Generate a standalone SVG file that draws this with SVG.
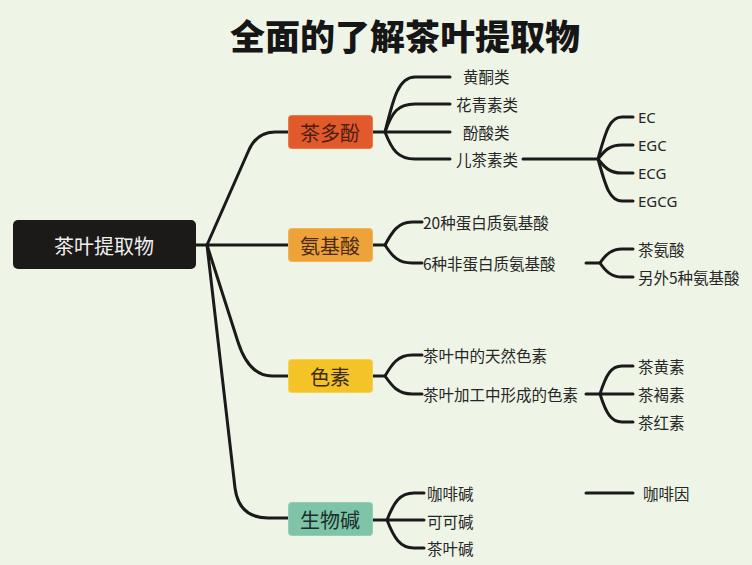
<svg xmlns="http://www.w3.org/2000/svg" width="752" height="565" viewBox="0 0 752 565">
<style>
text{font-family:"Noto Sans CJK SC","Noto Sans",sans-serif;fill:#262626;}
.t{font-size:35px;font-weight:900;fill:#161616;}
.lbl{font-size:15.5px;dominant-baseline:central;}
.en{font-family:"Noto Sans","Liberation Sans",sans-serif;font-size:15px;dominant-baseline:central;}
.box{font-size:20px;text-anchor:middle;dominant-baseline:central;}
.c path{fill:none;stroke:#1a1a1a;stroke-width:3;stroke-linecap:round;stroke-linejoin:round;}
</style>
<rect width="752" height="565" fill="#eef5e6"/>
<text class="t" x="405" y="50" text-anchor="middle">全面的了解茶叶提取物</text>

<g class="c" id="connectors">
<path d="M196,245 H207"/>
<path d="M207,245 L248,152 Q256,132 275,132 H289"/>
<path d="M207,245 H289"/>
<path d="M207,245 L238,342 Q249,376 272,376 H289"/>
<path d="M207,245 L235,488 Q239,518 268,518 H289"/>
<!-- 茶多酚 -->
<path d="M373,132 H385"/>
<path d="M385,132 C393,100 398,77 415,77 H450"/>
<path d="M385,132 C392,112 398,104 415,104 H450"/>
<path d="M385,132 H450"/>
<path d="M385,132 C392,150 398,159 415,159 H450"/>
<path d="M523,159 H598"/>
<path d="M598,159 C606,130 610,117 622,117 H633"/>
<path d="M598,159 C605,150 610,145 622,145 H633"/>
<path d="M598,159 C605,168 610,173 622,173 H633"/>
<path d="M598,159 C606,188 610,201 622,201 H633"/>
<!-- 氨基酸 -->
<path d="M373,245 H385"/>
<path d="M385,245 C392,232 398,222 412,222 H422"/>
<path d="M385,245 C392,256 398,263 412,263 H422"/>
<path d="M586,263 H600"/>
<path d="M600,263 C606,254 612,249 622,249 H633"/>
<path d="M600,263 C606,272 612,277 622,277 H633"/>
<!-- 色素 -->
<path d="M373,376 H385"/>
<path d="M385,376 C392,364 398,355 412,355 H422"/>
<path d="M385,376 C392,386 398,394 412,394 H422"/>
<path d="M586,394 H633"/>
<path d="M600,394 C606,375 611,366 622,366 H633"/>
<path d="M600,394 C606,413 611,422 622,422 H633"/>
<!-- 生物碱 -->
<path d="M373,520 H424"/>
<path d="M387,520 C394,502 400,493 414,493 H424"/>
<path d="M387,520 C394,538 400,548 414,548 H424"/>
<path d="M586,493 H633"/>
</g>

<g id="root">
<rect x="13" y="220" width="183" height="49" rx="5" fill="#1c1a18"/>
<text class="box" x="104" y="245" style="fill:#f0f0f0">茶叶提取物</text>
</g>
<g id="n-chaduofen">
<rect x="288.5" y="115.5" width="84" height="33" rx="3" fill="#e2592b" stroke="#ea7a3e"/>
<text class="box" x="330" y="132" style="fill:#4a1e12">茶多酚</text>
</g>
<g id="n-anjisuan">
<rect x="288.5" y="228.5" width="84" height="33" rx="3" fill="#eea23a" stroke="#f3b458"/>
<text class="box" x="330" y="245" style="fill:#4a2a12">氨基酸</text>
</g>
<g id="n-sesu">
<rect x="288.5" y="359.5" width="84" height="33" rx="3" fill="#f4c328" stroke="#f7d150"/>
<text class="box" x="330" y="376" style="fill:#3a2a10">色素</text>
</g>
<g id="n-shengwujian">
<rect x="288.5" y="502.5" width="84" height="33" rx="3" fill="#7fc3a8" stroke="#95ceb7"/>
<text class="box" x="330" y="519" style="fill:#17302a">生物碱</text>
</g>

<g id="l-huangtong"><text class="lbl" x="463" y="76">黄酮类</text></g>
<g id="l-huaqing"><text class="lbl" x="456" y="104">花青素类</text></g>
<g id="l-fensuan"><text class="lbl" x="463" y="132">酚酸类</text></g>
<g id="l-ercha"><text class="lbl" x="456" y="159">儿茶素类</text></g>
<g id="l-ec"><text class="en" x="638" y="117">EC</text></g>
<g id="l-egc"><text class="en" x="638" y="145">EGC</text></g>
<g id="l-ecg"><text class="en" x="638" y="173">ECG</text></g>
<g id="l-egcg"><text class="en" x="638" y="201">EGCG</text></g>

<g id="l-20"><text class="lbl" x="423" y="222">20种蛋白质氨基酸</text></g>
<g id="l-6"><text class="lbl" x="423" y="263">6种非蛋白质氨基酸</text></g>
<g id="l-chaan"><text class="lbl" x="638" y="249">茶氨酸</text></g>
<g id="l-lingwai"><text class="lbl" x="638" y="277">另外5种氨基酸</text></g>

<g id="l-tianran"><text class="lbl" x="423" y="355">茶叶中的天然色素</text></g>
<g id="l-jiagong"><text class="lbl" x="423" y="394">茶叶加工中形成的色素</text></g>
<g id="l-chahuang"><text class="lbl" x="638" y="366">茶黄素</text></g>
<g id="l-chahe"><text class="lbl" x="638" y="394">茶褐素</text></g>
<g id="l-chahong"><text class="lbl" x="638" y="422">茶红素</text></g>

<g id="l-kafeijian"><text class="lbl" x="427" y="493">咖啡碱</text></g>
<g id="l-kekejian"><text class="lbl" x="427" y="521">可可碱</text></g>
<g id="l-chayejian"><text class="lbl" x="427" y="548">茶叶碱</text></g>
<g id="l-kafeiyin"><text class="lbl" x="643" y="493">咖啡因</text></g>
</svg>
